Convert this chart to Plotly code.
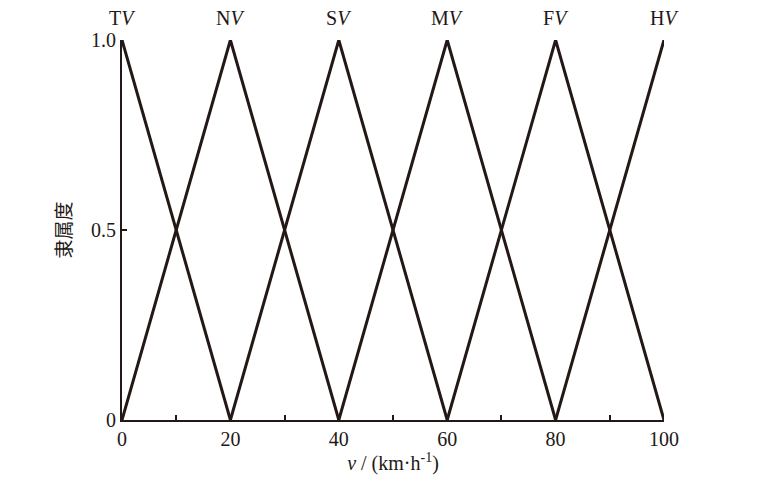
import plotly.graph_objects as go

# membership functions: speed v (km/h) vs degree
names = ["T", "N", "S", "M", "F", "H"]
xs = [
    [0, 20],
    [0, 20, 40],
    [20, 40, 60],
    [40, 60, 80],
    [60, 80, 100],
    [80, 100],
]
ys = [
    [1, 0],
    [0, 1, 0],
    [0, 1, 0],
    [0, 1, 0],
    [0, 1, 0],
    [0, 1],
]
peaks = [0, 20, 40, 60, 80, 100]

x_ticks = [0, 10, 20, 30, 40, 50, 60, 70, 80, 90, 100]
x_ticklabels = ["0", "", "20", "", "40", "", "60", "", "80", "", "100"]
y_ticks = [0, 0.5, 1.0]
y_ticklabels = ["0", "0.5", "1.0"]

ink = "#231815"
serif = "Liberation Serif, Times New Roman, serif"

fig = go.Figure()
for name, x, y in zip(names, xs, ys):
    fig.add_trace(go.Scatter(x=x, y=y, mode="lines", name=name + "V",
                             line=dict(color=ink, width=3), showlegend=False))

for name, p in zip(names, peaks):
    fig.add_annotation(x=p, y=1.0, yref="y", yshift=22, showarrow=False,
                       text=name + "<i>V</i>",
                       font=dict(family=serif, size=20, color=ink))

# page body adds an 8px offset, so the figure is sized 8px smaller
fig.update_layout(
    width=752, height=471,
    margin=dict(l=114, r=96, t=32, b=59),
    plot_bgcolor="white", paper_bgcolor="white",
    font=dict(family=serif, size=20, color=ink),
)
fig.update_xaxes(
    range=[0, 100], tickvals=x_ticks, ticktext=x_ticklabels, ticks="inside",
    ticklen=5, tickwidth=1.5, tickcolor=ink, showline=True, linecolor=ink,
    linewidth=2, showgrid=False, zeroline=False, automargin=False,
    title=dict(text="<i>v</i> / (km·h<sup>-1</sup>)", standoff=6,
               font=dict(family=serif, size=20)),
)
fig.update_yaxes(
    range=[0, 1.0], tickvals=y_ticks, ticktext=y_ticklabels, ticks="inside",
    ticklen=5, tickwidth=1.5, tickcolor=ink, showline=True, linecolor=ink,
    linewidth=2, showgrid=False, zeroline=False, automargin=False,
    title=dict(text="隶属度", standoff=14,
               font=dict(family="Noto Sans CJK SC", size=19)),
)

fig.write_html("out.html")
